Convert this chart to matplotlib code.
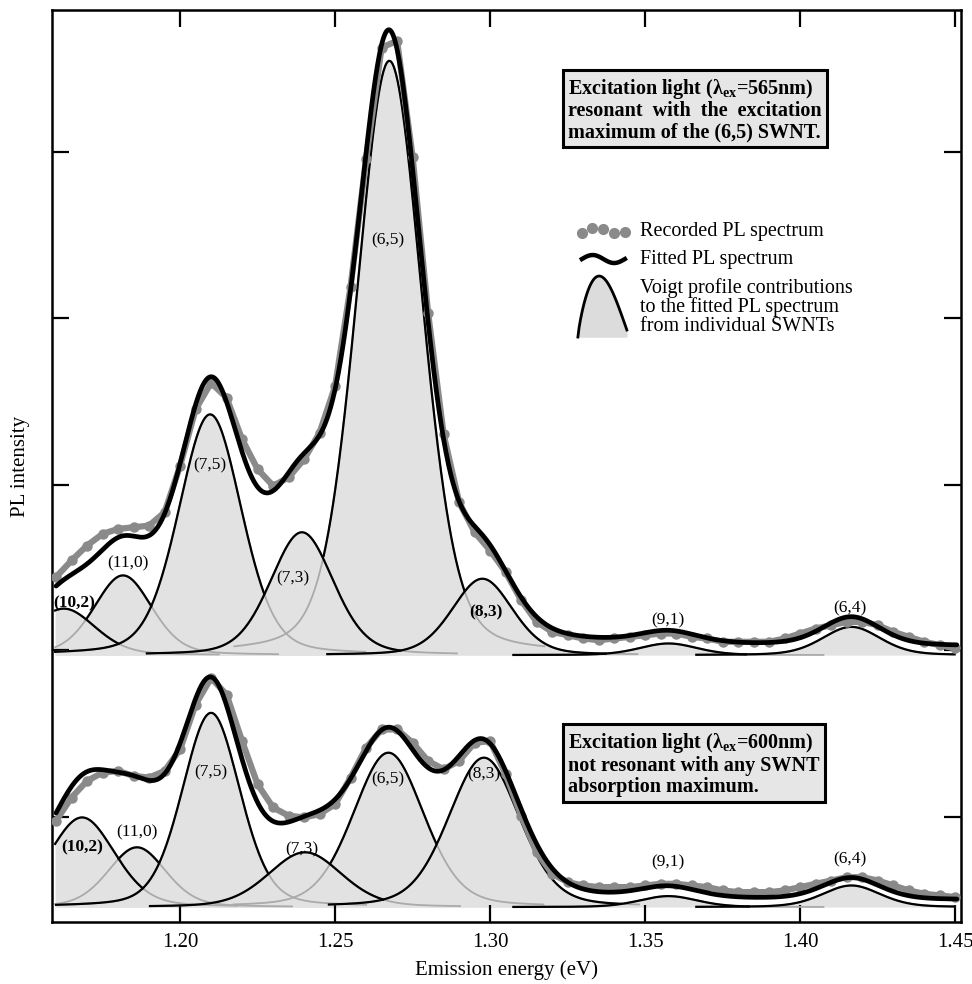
import numpy as np
import matplotlib.pyplot as plt

plt.rcParams['font.family'] = ['Liberation Serif', 'DejaVu Serif']
plt.rcParams['mathtext.fontset'] = 'custom'
plt.rcParams['mathtext.rm'] = 'Liberation Serif'
plt.rcParams['mathtext.bf'] = 'Liberation Serif:bold'

# ---- data (intensity in arbitrary units, 1 unit = one y tick step) ----
labels = ['(10,2)', '(11,0)', '(7,5)', '(7,3)', '(6,5)', '(8,3)', '(9,1)', '(6,4)']

# Voigt contributions, excitation at 565 nm (upper spectrum)
top_center = [1.1625, 1.1816, 1.2097, 1.2393, 1.2675, 1.2975, 1.3575, 1.4165]
top_height = [0.28, 0.48, 1.45, 0.74, 3.58, 0.46, 0.07, 0.17]
top_hwhm = [0.0120, 0.0110, 0.0120, 0.0120, 0.0125, 0.0115, 0.0110, 0.0110]
top_broad = [1.235, 0.11, 0.035]       # broad background term of the fit
top_offset = 0.05

# Voigt contributions, excitation at 600 nm (lower spectrum)
bot_center = [1.1684, 1.1861, 1.2100, 1.2403, 1.2672, 1.2980, 1.3575, 1.4165]
bot_height = [0.54, 0.36, 1.17, 0.33, 0.93, 0.90, 0.066, 0.13]
bot_hwhm = [0.0125, 0.0110, 0.0110, 0.0140, 0.0135, 0.0135, 0.0110, 0.0110]
bot_broad = [1.185, 0.14, 0.035]
bot_offset = 0.04

# recorded spectra, sampled every 5 meV from 1.160 to 1.450 eV
rec_energy = np.round(np.arange(1.160, 1.4501, 0.005), 3)
top_recorded = [0.47, 0.57, 0.66, 0.73, 0.76, 0.77, 0.78, 0.86, 1.14,
                1.48, 1.64, 1.55, 1.30, 1.12, 1.02, 1.07, 1.18, 1.34, 1.62,
                2.22, 2.99, 3.66, 3.70, 3.00, 2.06, 1.33, 0.92, 0.74, 0.63,
                0.50, 0.33, 0.20, 0.14, 0.12, 0.10, 0.09, 0.10, 0.11, 0.12,
                0.13, 0.13, 0.11, 0.10, 0.08, 0.08, 0.08, 0.08, 0.10, 0.13,
                0.16, 0.18, 0.20, 0.20, 0.18, 0.14, 0.11, 0.08, 0.06, 0.04]
bot_recorded = [0.52, 0.66, 0.76, 0.81, 0.82, 0.79, 0.78, 0.82, 0.95,
                1.22, 1.38, 1.28, 1.00, 0.74, 0.60, 0.55, 0.54, 0.56, 0.62,
                0.78, 0.96, 1.07, 1.07, 0.99, 0.88, 0.83, 0.88, 0.99, 1.00,
                0.80, 0.55, 0.33, 0.20, 0.15, 0.13, 0.12, 0.12, 0.12, 0.13,
                0.14, 0.14, 0.13, 0.12, 0.10, 0.09, 0.09, 0.09, 0.10, 0.12,
                0.14, 0.16, 0.18, 0.18, 0.16, 0.13, 0.10, 0.08, 0.07, 0.06]

# vertical offsets of the two spectra and tick marks (same units)
top_base = 1.608
bot_base = 0.09
ytick_pos = [0.63, 1.64, 2.63, 3.64, 4.64]
xticks = [1.20, 1.25, 1.30, 1.35, 1.40, 1.45]

# where the peak labels sit (relative to each baseline)
top_lab_x = [1.166, 1.1832, 1.2097, 1.2365, 1.267, 1.2985, 1.3574, 1.416]
top_lab_y = [0.31, 0.55, 1.14, 0.46, 2.50, 0.26, 0.21, 0.28]
bot_lab_x = [1.1684, 1.1861, 1.2100, 1.2394, 1.267, 1.298, 1.3574, 1.416]
bot_lab_y = [0.36, 0.45, 0.81, 0.35, 0.77, 0.80, 0.27, 0.29]
bold_top = {'(10,2)', '(8,3)'}
bold_bot = {'(10,2)'}

E_MIN, E_MAX = 1.1587, 1.4518
ETA = 0.25
SPAN = 0.05
draw_order = [1, 0, 4, 2, 3, 5, 6, 7]


def voigt(x, c, h, w, eta=ETA):
    u = ((x - c) / w) ** 2
    return h * ((1 - eta) * np.exp(-np.log(2) * u) + eta / (1 + u))


def comp_on(x, c, h, w):
    # component as drawn: only within its plotting span
    y = voigt(x, c, h, w)
    return np.where(np.abs(x - c) <= SPAN, y, 0.0)


def draw_panel(ax, base, centers, heights, widths, broad, offset, recorded,
               lab_x, lab_y, bold):
    grids = []
    for c in centers:
        grids.append(np.linspace(max(c - SPAN, E_MIN + 0.001), min(c + SPAN, E_MAX - 0.002), 400))

    for x, c, h, w in zip(grids, centers, heights, widths):
        ax.fill_between(x, base, base + voigt(x, c, h, w), color='#e2e2e2', lw=0, zorder=1)

    for k, i in enumerate(draw_order):
        x = grids[i]
        y = voigt(x, centers[i], heights[i], widths[i])
        cover = np.zeros_like(x)
        for j in draw_order[k + 1:]:
            cover = np.maximum(cover, comp_on(x, centers[j], heights[j], widths[j]))
        ax.plot(x, base + y, color='#aaaaaa', lw=1.3, zorder=2)
        yb = np.where(y >= cover, base + y, np.nan)
        ax.plot(x, yb, color='black', lw=1.6, zorder=3)

    e = np.linspace(1.160, 1.4505, 1500)
    fit = offset + voigt(e, *broad)
    for c, h, w in zip(centers, heights, widths):
        fit += voigt(e, c, h, w)

    ax.plot(rec_energy, base + np.array(recorded), color='#8a8a8a', lw=4.5,
            marker='o', ms=6.5, zorder=5, solid_capstyle='round')
    ax.plot(e, base + fit, color='black', lw=3.4, zorder=6, solid_capstyle='round')

    for lab, lx, ly in zip(labels, lab_x, lab_y):
        ax.text(lx, base + ly, lab, ha='center', va='center', fontsize=12.5,
                fontweight='bold' if lab in bold else 'normal', zorder=7)


fig = plt.figure(figsize=(9.72, 9.84), dpi=100)
ax = fig.add_axes([0.0535, 0.063, 0.935, 0.9268])

draw_panel(ax, top_base, top_center, top_height, top_hwhm, top_broad, top_offset,
           top_recorded, top_lab_x, top_lab_y, bold_top)
draw_panel(ax, bot_base, bot_center, bot_height, bot_hwhm, bot_broad, bot_offset,
           bot_recorded, bot_lab_x, bot_lab_y, bold_bot)

ax.set_xlim(E_MIN, E_MAX)
ax.set_ylim(0, 5.494)
ax.set_xticks(xticks)
ax.set_xticklabels(['%.2f' % t for t in xticks])
ax.set_yticks(ytick_pos)
ax.set_yticklabels([])
ax.tick_params(direction='in', length=12, width=1.6, top=True, right=True,
               labelsize=15, pad=8)
for s in ax.spines.values():
    s.set_linewidth(1.8)

ax.set_xlabel('Emission energy (eV)', fontsize=15, labelpad=6)
ax.set_ylabel('PL intensity', fontsize=15, labelpad=8)

# annotation boxes
box = dict(boxstyle='square,pad=0.25', fc='#e6e6e6', ec='black', lw=2.2)
ax.text(0.568, 0.891, 'Excitation light (λ$_{\\mathbf{ex}}$=565nm)\n'
        'resonant  with  the  excitation\nmaximum of the (6,5) SWNT.',
        transform=ax.transAxes, ha='left', va='center', fontsize=14.5,
        fontweight='bold', linespacing=1.05, bbox=box, zorder=8)
ax.text(0.568, 0.173, 'Excitation light (λ$_{\\mathbf{ex}}$=600nm)\n'
        'not resonant with any SWNT\nabsorption maximum.',
        transform=ax.transAxes, ha='left', va='center', fontsize=14.5,
        fontweight='bold', linespacing=1.05, bbox=box, zorder=8)


# hand-made legend (positions given in pixels of the original figure)
def to_ax(px, py):
    return (np.asarray(px) - 52) / 909.0, (922 - np.asarray(py)) / 912.0


gx, gy = to_ax([582, 592, 603, 614, 625], [233, 228, 229, 233, 232])
ax.plot(gx, gy, 'o', color='#8a8a8a', ms=7, transform=ax.transAxes, zorder=8)
t = np.linspace(0, 1, 40)
wx, wy = to_ax(582 + 43 * t, 259 - 4 * np.sin(2 * np.pi * t))
ax.plot(wx, wy, color='black', lw=3.2, transform=ax.transAxes, zorder=8)
bx, by = to_ax(578 + 49 * t, 337 - 7 * t - 58 * np.sin(np.pi * t ** 0.8))
ax.fill(np.r_[bx, bx[::-1][:1]], np.r_[by, by[:1]], color='#dcdcdc',
        transform=ax.transAxes, zorder=7)
ax.plot(bx, by, color='black', lw=2.0, transform=ax.transAxes, zorder=8)

lx, ly = to_ax(640, 231)
ax.text(lx, ly, 'Recorded PL spectrum', transform=ax.transAxes, fontsize=14.5, va='center')
lx, ly = to_ax(640, 259)
ax.text(lx, ly, 'Fitted PL spectrum', transform=ax.transAxes, fontsize=14.5, va='center')
lx, ly = to_ax(640, 307)
ax.text(lx, ly, 'Voigt profile contributions\nto the fitted PL spectrum\nfrom individual SWNTs',
        transform=ax.transAxes, fontsize=14.5, va='center', linespacing=0.95)

fig.savefig('out.png', dpi=100)
